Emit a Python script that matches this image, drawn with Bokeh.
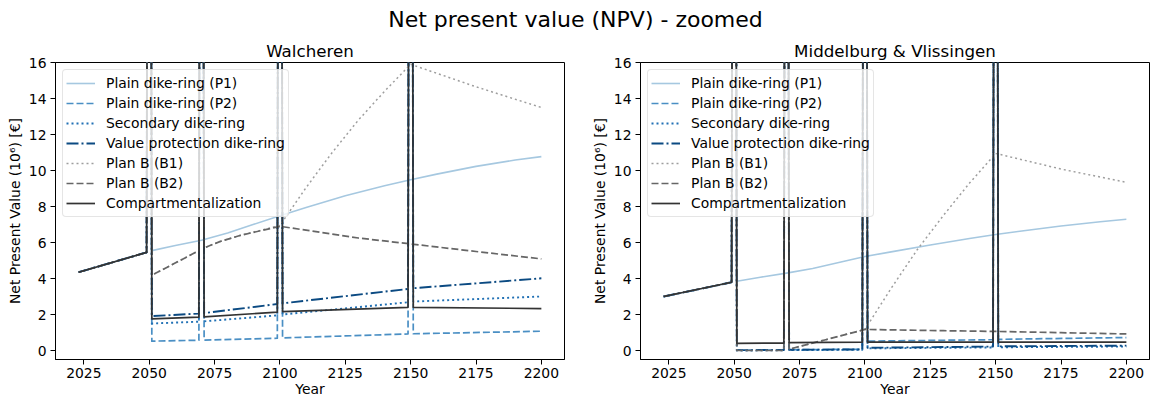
from bokeh.plotting import figure
from bokeh.models import Div, Legend, LegendItem, FixedTicker, Range1d
from bokeh.layouts import column, row
from bokeh.embed import file_html
from bokeh.resources import INLINE

# ---------------- data ----------------
SUPTITLE = "Net present value (NPV) - zoomed"
PANEL_TITLES = ["Walcheren", "Middelburg & Vlissingen"]
SERIES_NAMES = ["Plain dike-ring (P1)", "Plain dike-ring (P2)", "Secondary dike-ring",
                "Value protection dike-ring", "Plan B (B1)", "Plan B (B2)", "Compartmentalization"]
X_TICKS = [2025, 2050, 2075, 2100, 2125, 2150, 2175, 2200]
Y_TICKS = [0, 2, 4, 6, 8, 10, 12, 14, 16]

YEARS_P1 = [2023, 2049, 2050, 2051, 2060, 2070, 2080, 2090, 2100, 2110, 2125, 2140, 2150, 2160, 2175, 2190, 2200]
YEARS_STEP = [2023, 2049, 2050, 2051, 2069, 2070, 2071, 2099, 2100, 2101, 2149, 2150, 2151, 2200]
YEARS_B1 = [2023, 2049, 2050, 2051, 2069, 2070, 2071, 2077, 2085, 2100, 2110, 2120, 2130, 2140, 2150, 2175, 2200]
YEARS_B2 = [2023, 2049, 2050, 2051, 2069, 2070, 2071, 2077, 2085, 2100, 2130, 2150, 2175, 2200]

# Walcheren
W_P1 = [4.35, 5.45, 80, 5.55, 5.83, 6.13, 6.53, 7.01, 7.49, 7.95, 8.6, 9.15, 9.49, 9.8, 10.23, 10.58, 10.77]
W_P2 = [4.35, 5.45, 80, 0.52, 0.57, 80, 0.58, 0.68, 80, 0.70, 0.92, 80, 0.93, 1.07]
W_SEC = [4.35, 5.45, 80, 1.5, 1.6, 80, 1.62, 1.95, 80, 2.0, 2.68, 80, 2.72, 3.0]
W_VP = [4.35, 5.45, 80, 1.91, 2.05, 80, 2.08, 2.58, 80, 2.62, 3.42, 80, 3.46, 4.01]
W_B1 = [4.35, 5.45, 80, 4.18, 5.55, 80, 5.7, 6.05, 6.4, 6.95, 9.05, 11.0, 12.8, 14.4, 15.9, 14.65, 13.5]
W_B2 = [4.35, 5.45, 80, 4.18, 5.55, 80, 5.7, 6.05, 6.4, 6.9, 6.25, 5.92, 5.5, 5.09]
W_COMP = [4.35, 5.45, 80, 1.76, 1.85, 80, 1.87, 2.13, 80, 2.16, 2.4, 80, 2.4, 2.33]

# Middelburg & Vlissingen
M_P1 = [3.0, 3.79, 80, 3.85, 4.07, 4.3, 4.56, 4.89, 5.22, 5.48, 5.86, 6.22, 6.44, 6.64, 6.92, 7.15, 7.29]
M_P2 = [3.0, 3.79, 80, 0.02, 0.03, 80, 0.04, 0.07, 80, 0.52, 0.6, 80, 0.62, 0.72]
M_SEC = [3.0, 3.79, 80, 0.0, 0.01, 80, 0.02, 0.04, 80, 0.12, 0.17, 80, 0.18, 0.22]
M_VP = [3.0, 3.79, 80, 0.02, 0.03, 80, 0.04, 0.06, 80, 0.15, 0.22, 80, 0.23, 0.27]
M_B1 = [3.0, 3.79, 80, 0.0, 0.0, 80, 0.07, 0.3, 0.6, 1.17, 3.45, 5.6, 7.5, 9.3, 10.95, 10.08, 9.34]
M_B2 = [3.0, 3.79, 80, 0.0, 0.0, 80, 0.07, 0.3, 0.6, 1.17, 1.1, 1.06, 0.99, 0.92]
M_COMP = [3.0, 3.79, 80, 0.4, 0.41, 80, 0.44, 0.47, 80, 0.47, 0.46, 80, 0.46, 0.46]

# ---------------- styles ----------------
FONT = "DejaVu Sans"
STYLES = [
    dict(color="#a6c8e0", width=1.6, dash="solid"),
    dict(color="#4a8fc4", width=1.7, dash="7 3"),
    dict(color="#2171b5", width=1.9, dash="2 3"),
    dict(color="#0b4a82", width=1.9, dash="12 3 2 3"),
    dict(color="#9e9e9e", width=1.5, dash="2 3"),
    dict(color="#666666", width=1.7, dash="7 3"),
    dict(color="#333333", width=1.7, dash="solid"),
]
YEARS = [YEARS_P1, YEARS_STEP, YEARS_STEP, YEARS_STEP, YEARS_B1, YEARS_B2, YEARS_STEP]
PANELS = [
    [W_P1, W_P2, W_SEC, W_VP, W_B1, W_B2, W_COMP],
    [M_P1, M_P2, M_SEC, M_VP, M_B1, M_B2, M_COMP],
]

TXT = "13.9px"


def make_panel(title, values, width, border_left, border_right):
    p = figure(width=width, height=367, output_backend="svg", toolbar_location=None,
               x_range=Range1d(2014.15, 2208.85), y_range=Range1d(-0.5, 16),
               min_border_left=border_left, min_border_right=border_right,
               min_border_top=30, min_border_bottom=40)
    p.title.text = title
    p.title.align = "center"
    p.title.text_font = FONT
    p.title.text_font_size = "16.7px"
    p.title.text_font_style = "normal"
    p.title.text_color = "black"
    p.title.standoff = 3
    p.xgrid.visible = False
    p.ygrid.visible = False
    p.outline_line_color = "black"
    p.outline_line_alpha = 1
    p.outline_line_width = 1
    p.xaxis.ticker = FixedTicker(ticks=X_TICKS)
    p.yaxis.ticker = FixedTicker(ticks=Y_TICKS)
    p.xaxis.axis_label = "Year"
    p.yaxis.axis_label = "Net Present Value (10\u2076) [\u20ac]"
    for ax in (p.xaxis, p.yaxis):
        ax.axis_label_text_font = FONT
        ax.axis_label_text_font_size = TXT
        ax.axis_label_text_font_style = "normal"
        ax.axis_label_text_color = "black"
        ax.major_label_text_font = FONT
        ax.major_label_text_font_size = TXT
        ax.major_label_text_color = "black"
        ax.major_tick_in = 0
        ax.major_tick_out = 5
        ax.minor_tick_line_color = None
        ax.axis_line_color = "black"
        ax.major_tick_line_color = "black"
    p.xaxis.major_label_standoff = 3
    p.xaxis.axis_label_standoff = 0
    p.yaxis.major_label_standoff = 4
    p.yaxis.axis_label_standoff = 3

    items = []
    for name, yrs, vals, st in zip(SERIES_NAMES, YEARS, values, STYLES):
        r = p.line(yrs, vals, line_color=st["color"], line_width=st["width"],
                   line_dash=st["dash"], line_join="round")
        items.append(LegendItem(label=name, renderers=[r]))
    legend = Legend(items=items, location="top_left")
    legend.margin = 7
    legend.padding = 3
    legend.spacing = 0
    legend.label_height = 20
    legend.glyph_height = 20
    legend.glyph_width = 29
    legend.label_standoff = 11
    legend.label_text_font = FONT
    legend.label_text_font_size = TXT
    legend.label_text_color = "black"
    legend.border_line_color = "#cccccc"
    legend.border_line_width = 1
    legend.background_fill_alpha = 0.8
    if "border_radius" in legend.properties():
        legend.border_radius = 4
    p.add_layout(legend)
    return p


p1 = make_panel(PANEL_TITLES[0], PANELS[0], 585, 55, 21)
p2 = make_panel(PANEL_TITLES[1], PANELS[1], 566, 55, 2)

title_div = Div(text='<div style="width:1151px;text-align:center;font-family:\'DejaVu Sans\';'
                     'font-size:22px;line-height:24px;padding-top:8px;color:black;">'
                     + SUPTITLE + '</div>',
                width=1151, height=32, margin=0)

layout = column(title_div, row(p1, p2, spacing=0), spacing=0)

open("out.html", "w").write(file_html(layout, INLINE))
